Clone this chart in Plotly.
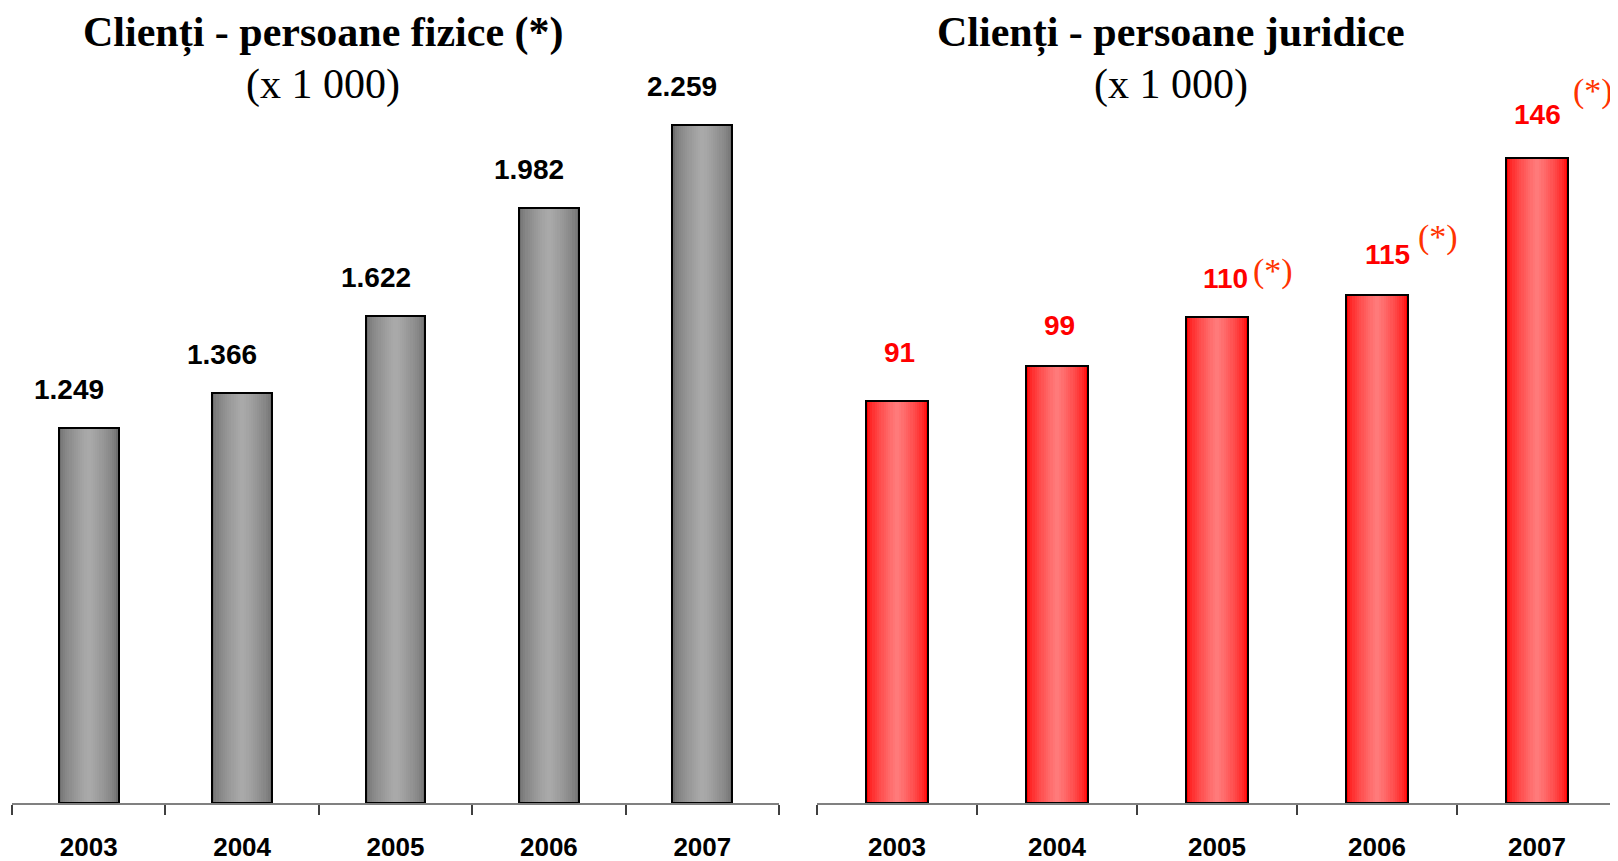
import plotly.graph_objects as go

years = ["2003", "2004", "2005", "2006", "2007"]
fizice = [1249, 1366, 1622, 1982, 2259]
fizice_labels = ["1.249", "1.366", "1.622", "1.982", "2.259"]
juridice = [91, 99, 110, 115, 146]
juridice_labels = ["91", "99", "110", "115", "146"]
juridice_star = [False, False, True, True, True]

title_left = "Clienți - persoane fizice (*)"
title_right = "Clienți - persoane juridice"
subtitle = "(x 1 000)"

OFF = 8  # default page body margin
W = 1618 - OFF
H = 861 - OFF
BAR_W = 0.39
N_LAYERS = 14
NARROW = "Liberation Sans Narrow, Arial Narrow, Liberation Sans, Arial, sans-serif"
SERIF = "Liberation Serif, Times New Roman, serif"

# label placement (pixel offsets) for the right chart: (label dx, label dy, star dx, star dy)
RIGHT_OFFSETS = [(2, 48, 0, 0), (2, 40, 0, 0), (8, 38, 48, 46), (10, 40, 51, 58), (0, 43, 56, 67)]


def mix(c1, c2, t):
    return "rgb(%d,%d,%d)" % tuple(round(a + (b - a) * t) for a, b in zip(c1, c2))


fig = go.Figure()


def add_bars(values, xa, ya, edge, centre):
    for i in range(N_LAYERS):
        frac = i / N_LAYERS
        width = BAR_W * (1 - frac)
        t = (frac ** 0.6)
        fig.add_trace(go.Bar(
            x=years, y=values, width=width, xaxis=xa, yaxis=ya,
            marker=dict(color=mix(edge, centre, t), line=dict(width=0)),
            hoverinfo="skip", showlegend=False))
    fig.add_trace(go.Bar(
        x=years, y=values, width=BAR_W, xaxis=xa, yaxis=ya,
        marker=dict(color="rgba(0,0,0,0)", line=dict(color="black", width=2)),
        showlegend=False))


add_bars(fizice, "x", "y", (110, 110, 110), (172, 172, 172))
add_bars(juridice, "x2", "y2", (255, 0, 0), (255, 128, 128))

lab_font = dict(family=NARROW, size=28, weight="bold")

annotations = []
for i, (v, lab) in enumerate(zip(fizice, fizice_labels)):
    annotations.append(dict(x=i, y=v, xref="x", yref="y", text=lab, showarrow=False,
                            xanchor="center", yanchor="middle",
                            xshift=-20, yshift=39,
                            font=dict(color="black", **lab_font)))
for i, (v, lab, st) in enumerate(zip(juridice, juridice_labels, juridice_star)):
    ldx, ldy, sdx, sdy = RIGHT_OFFSETS[i]
    annotations.append(dict(x=i, y=v, xref="x2", yref="y2", text=lab, showarrow=False,
                            xanchor="center", yanchor="middle",
                            xshift=ldx, yshift=ldy,
                            font=dict(color="#FF0000", **lab_font)))
    if st:
        annotations.append(dict(x=i, y=v, xref="x2", yref="y2", text="(*)", showarrow=False,
                                xanchor="center", yanchor="middle",
                                xshift=ldx + sdx, yshift=sdy,
                                font=dict(family=SERIF, size=34, color="#FF3300")))

for cx, txt in ((323, title_left), (1171, title_right)):
    annotations.append(dict(x=(cx - OFF) / W, y=1 - (33 - OFF) / H, xref="paper", yref="paper",
                            text=txt, showarrow=False, xanchor="center", yanchor="middle",
                            font=dict(family=SERIF, size=42, color="black", weight="bold")))
    annotations.append(dict(x=(cx - OFF) / W, y=1 - (85 - OFF) / H, xref="paper", yref="paper",
                            text=subtitle, showarrow=False, xanchor="center", yanchor="middle",
                            font=dict(family=SERIF, size=42, color="black")))

PLOT_TOP = 110 - OFF
PLOT_BOT = 803 - OFF
px_h = PLOT_BOT - PLOT_TOP
ydom = [(H - PLOT_BOT) / H, (H - PLOT_TOP) / H]

xaxis_common = dict(
    type="category", range=[-0.5, 4.5], showgrid=False, zeroline=False,
    showline=True, linecolor="#808080", linewidth=1.5,
    ticks="outside", tickson="boundaries", ticklen=10, tickwidth=1.5, tickcolor="#404040",
    tickfont=dict(family=NARROW, size=26, color="black", weight="bold"),
    ticklabelstandoff=20,
)

fig.update_layout(
    width=W, height=H,
    margin=dict(l=0, r=0, t=0, b=0),
    paper_bgcolor="white", plot_bgcolor="white",
    barmode="overlay", bargap=0,
    xaxis=dict(domain=[(12 - OFF) / W, (779 - OFF) / W], anchor="y", **xaxis_common),
    xaxis2=dict(domain=[(817 - OFF) / W, (1617 - OFF) / W], anchor="y2", **xaxis_common),
    yaxis=dict(domain=ydom, range=[0, px_h * 3.332], visible=False, anchor="x"),
    yaxis2=dict(domain=ydom, range=[0, px_h * 0.2263], visible=False, anchor="x2"),
    annotations=annotations,
    showlegend=False,
)

fig.write_html("out.html")
